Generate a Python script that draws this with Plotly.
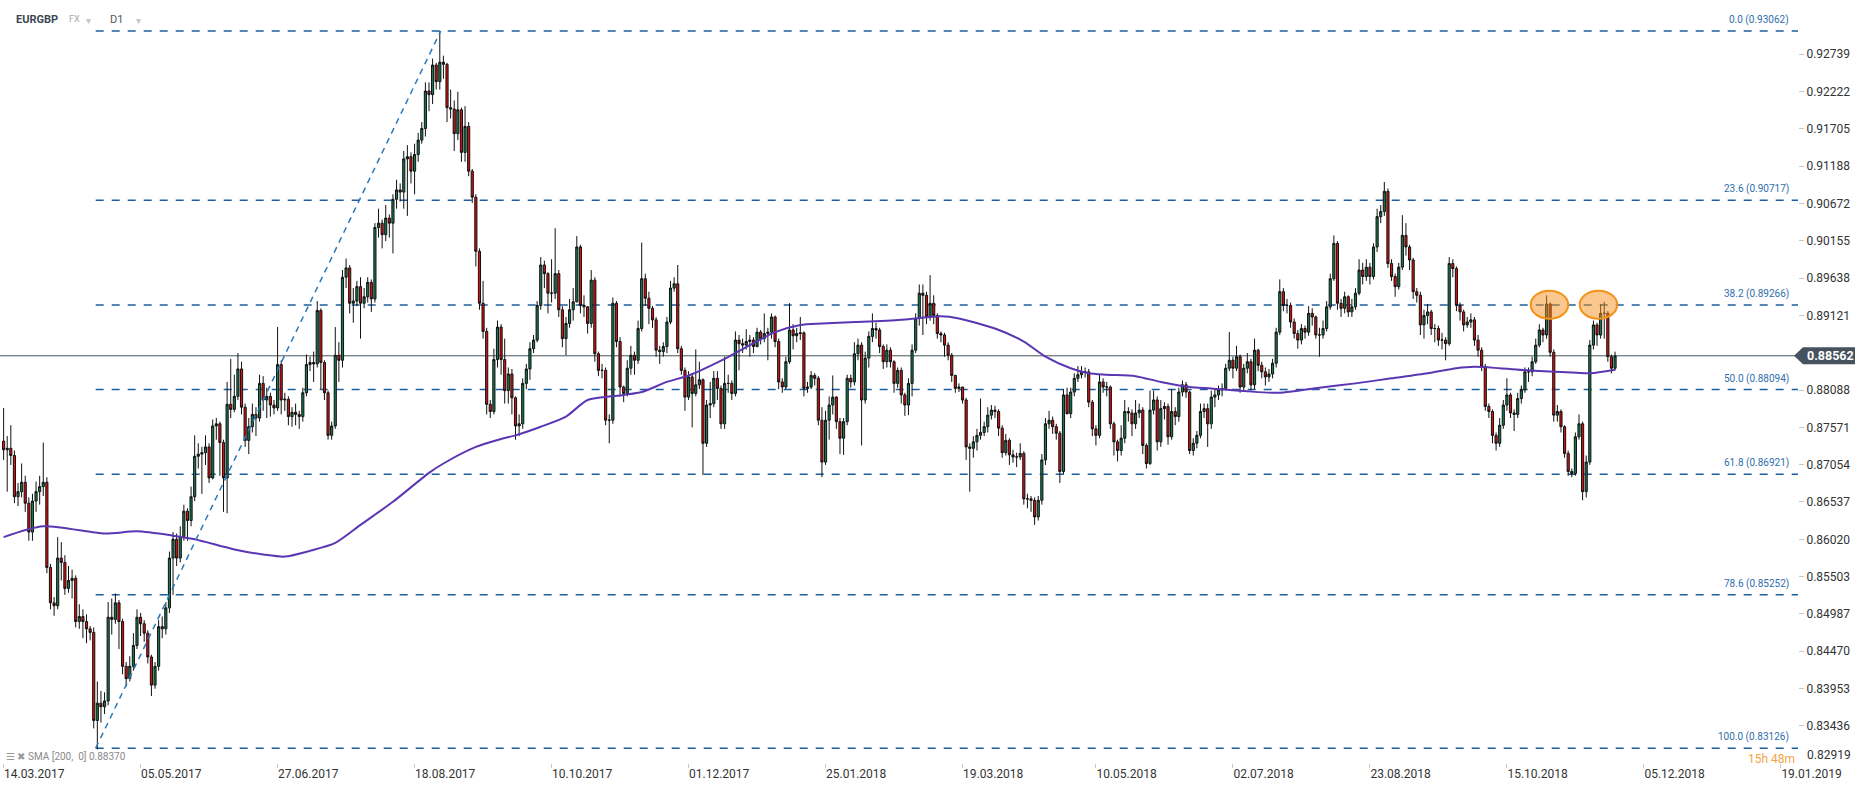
import plotly.graph_objects as go

# ---------------- data ----------------
instrument = "EURGBP"
market = "FX"
timeframe = "D1"

# daily candles, bar index 0 = 14.03.2017
close = [
    0.8726, 0.8728, 0.8718, 0.8661, 0.8668, 0.8681, 0.8652, 0.8612, 0.8655, 0.8668,  # 0
    0.8675, 0.8681, 0.8563, 0.8514, 0.8510, 0.8576, 0.8570, 0.8534, 0.8545, 0.8548,  # 10
    0.8488, 0.8495, 0.8488, 0.8478, 0.8473, 0.8351, 0.8375, 0.8370, 0.8378, 0.8494,  # 20
    0.8491, 0.8514, 0.8488, 0.8426, 0.8409, 0.8426, 0.8455, 0.8494, 0.8485, 0.8472,  # 30
    0.8439, 0.8400, 0.8426, 0.8481, 0.8478, 0.8507, 0.8576, 0.8602, 0.8576, 0.8606,  # 40
    0.8641, 0.8628, 0.8661, 0.8717, 0.8720, 0.8722, 0.8730, 0.8687, 0.8759, 0.8762,  # 50
    0.8736, 0.8687, 0.8789, 0.8782, 0.8800, 0.8838, 0.8785, 0.8739, 0.8758, 0.8775,  # 60
    0.8770, 0.8818, 0.8795, 0.8800, 0.8788, 0.8784, 0.8844, 0.8795, 0.8796, 0.8772,  # 70
    0.8778, 0.8775, 0.8772, 0.8805, 0.8844, 0.8847, 0.8845, 0.8919, 0.8847, 0.8805,  # 80
    0.8746, 0.8759, 0.8857, 0.8850, 0.8965, 0.8978, 0.8929, 0.8932, 0.8952, 0.8929,  # 90
    0.8938, 0.8958, 0.8935, 0.9034, 0.9040, 0.9024, 0.9047, 0.9040, 0.9073, 0.9086,  # 100
    0.9083, 0.9129, 0.9132, 0.9112, 0.9135, 0.9155, 0.9171, 0.9223, 0.9218, 0.9259,  # 110
    0.9236, 0.9263, 0.9260, 0.9200, 0.9198, 0.9164, 0.9197, 0.9138, 0.9174, 0.9112,  # 120
    0.9076, 0.9001, 0.8929, 0.8890, 0.8789, 0.8779, 0.8851, 0.8896, 0.8851, 0.8808,  # 130
    0.8831, 0.8798, 0.8759, 0.8762, 0.8818, 0.8838, 0.8866, 0.8878, 0.8926, 0.8982,  # 140
    0.8970, 0.8943, 0.8943, 0.8970, 0.8920, 0.8880, 0.8901, 0.8920, 0.8931, 0.9007,  # 150
    0.8926, 0.8924, 0.8901, 0.8961, 0.8859, 0.8836, 0.8836, 0.8767, 0.8767, 0.8929,  # 160
    0.8876, 0.8813, 0.8804, 0.8839, 0.8857, 0.8850, 0.8894, 0.8963, 0.8936, 0.8922,  # 170
    0.8906, 0.8864, 0.8862, 0.8869, 0.8903, 0.8950, 0.8956, 0.8866, 0.8836, 0.8799,  # 180
    0.8827, 0.8804, 0.8816, 0.8823, 0.8735, 0.8788, 0.8790, 0.8825, 0.8811, 0.8762,  # 190
    0.8818, 0.8818, 0.8804, 0.8878, 0.8873, 0.8871, 0.8876, 0.8878, 0.8869, 0.8889,  # 200
    0.8880, 0.8887, 0.8889, 0.8910, 0.8876, 0.8820, 0.8813, 0.8848, 0.8892, 0.8884,  # 210
    0.8887, 0.8888, 0.8811, 0.8813, 0.8829, 0.8825, 0.8767, 0.8709, 0.8767, 0.8788,  # 220
    0.8799, 0.8765, 0.8742, 0.8765, 0.8825, 0.8820, 0.8859, 0.8871, 0.8795, 0.8853,  # 230
    0.8883, 0.8894, 0.8892, 0.8869, 0.8848, 0.8864, 0.8848, 0.8818, 0.8836, 0.8802,  # 240
    0.8788, 0.8818, 0.8864, 0.8908, 0.8943, 0.8940, 0.8910, 0.8929, 0.8912, 0.8887,  # 250
    0.8885, 0.8871, 0.8857, 0.8829, 0.8811, 0.8813, 0.8795, 0.8730, 0.8728, 0.8737,  # 260
    0.8746, 0.8750, 0.8758, 0.8774, 0.8781, 0.8779, 0.8756, 0.8722, 0.8739, 0.8719,  # 270
    0.8716, 0.8716, 0.8721, 0.8658, 0.8658, 0.8656, 0.8633, 0.8656, 0.8712, 0.8762,  # 280
    0.8767, 0.8758, 0.8749, 0.8696, 0.8802, 0.8776, 0.8806, 0.8825, 0.8830, 0.8834,  # 290
    0.8834, 0.8792, 0.8755, 0.8746, 0.8820, 0.8813, 0.8813, 0.8762, 0.8737, 0.8725,  # 300
    0.8742, 0.8779, 0.8777, 0.8762, 0.8777, 0.8781, 0.8732, 0.8707, 0.8781, 0.8795,  # 310
    0.8737, 0.8783, 0.8786, 0.8744, 0.8779, 0.8772, 0.8806, 0.8816, 0.8806, 0.8725,  # 320
    0.8735, 0.8746, 0.8779, 0.8783, 0.8762, 0.8799, 0.8802, 0.8809, 0.8811, 0.8839,  # 330
    0.8850, 0.8839, 0.8855, 0.8813, 0.8839, 0.8848, 0.8816, 0.8864, 0.8843, 0.8834,  # 340
    0.8827, 0.8831, 0.8846, 0.8889, 0.8945, 0.8926, 0.8926, 0.8903, 0.8887, 0.8878,  # 350
    0.8894, 0.8889, 0.8915, 0.8910, 0.8885, 0.8885, 0.8894, 0.8924, 0.8963, 0.9012,  # 360
    0.8929, 0.8922, 0.8938, 0.8917, 0.8924, 0.8943, 0.8975, 0.8966, 0.8979, 0.8966,  # 370
    0.9007, 0.9049, 0.9056, 0.9084, 0.8984, 0.8966, 0.8952, 0.8979, 0.9023, 0.9007,  # 380
    0.8989, 0.8945, 0.8940, 0.8899, 0.8912, 0.8917, 0.8894, 0.8894, 0.8878, 0.8878,  # 390
    0.8873, 0.8984, 0.8977, 0.8926, 0.8917, 0.8899, 0.8903, 0.8906, 0.8878, 0.8864,  # 400
    0.8841, 0.8786, 0.8779, 0.8746, 0.8735, 0.8760, 0.8788, 0.8802, 0.8777, 0.8775,  # 410
    0.8797, 0.8809, 0.8834, 0.8834, 0.8848, 0.8871, 0.8892, 0.8885, 0.8928, 0.8861,  # 420
    0.8774, 0.8779, 0.8758, 0.8721, 0.8696, 0.8693, 0.8744, 0.8762, 0.8668, 0.8709,  # 430
    0.8871, 0.8899, 0.8885, 0.8915, 0.8915, 0.8855, 0.8839, 0.8856,                  # 440
]

high = [
    0.8784, 0.8745, 0.8760, 0.8725, 0.8680, 0.8707, 0.8690, 0.8660, 0.8665, 0.8682,  # 0
    0.8690, 0.8736, 0.8688, 0.8568, 0.8522, 0.8605, 0.8598, 0.8580, 0.8565, 0.8560,  # 10
    0.8552, 0.8512, 0.8505, 0.8498, 0.8482, 0.8480, 0.8405, 0.8392, 0.8390, 0.8515,  # 20
    0.8520, 0.8527, 0.8518, 0.8492, 0.8432, 0.8440, 0.8472, 0.8505, 0.8500, 0.8490,  # 30
    0.8476, 0.8442, 0.8432, 0.8490, 0.8495, 0.8515, 0.8585, 0.8612, 0.8610, 0.8620,  # 40
    0.8650, 0.8645, 0.8675, 0.8746, 0.8735, 0.8730, 0.8746, 0.8735, 0.8768, 0.8770,  # 50
    0.8765, 0.8740, 0.8820, 0.8852, 0.8830, 0.8860, 0.8848, 0.8790, 0.8770, 0.8790,  # 60
    0.8785, 0.8830, 0.8828, 0.8812, 0.8805, 0.8795, 0.8896, 0.8850, 0.8805, 0.8800,  # 70
    0.8785, 0.8790, 0.8780, 0.8812, 0.8858, 0.8855, 0.8862, 0.8932, 0.8922, 0.8850,  # 80
    0.8808, 0.8765, 0.8896, 0.8875, 0.8975, 0.8991, 0.8982, 0.8950, 0.8960, 0.8965,  # 90
    0.8950, 0.8965, 0.8962, 0.9040, 0.9060, 0.9045, 0.9065, 0.9052, 0.9080, 0.9100,  # 100
    0.9095, 0.9140, 0.9148, 0.9138, 0.9150, 0.9165, 0.9180, 0.9235, 0.9235, 0.9268,  # 110
    0.9262, 0.9306, 0.9272, 0.9262, 0.9225, 0.9210, 0.9222, 0.9200, 0.9202, 0.9180,  # 120
    0.9115, 0.9080, 0.9005, 0.8960, 0.8895, 0.8795, 0.8866, 0.8905, 0.8900, 0.8880,  # 130
    0.8840, 0.8838, 0.8800, 0.8775, 0.8825, 0.8845, 0.8875, 0.8885, 0.8932, 0.8993,  # 140
    0.8988, 0.8972, 0.8990, 0.9033, 0.8975, 0.8925, 0.8910, 0.8935, 0.8950, 0.9022,  # 150
    0.9010, 0.8940, 0.8925, 0.8975, 0.8965, 0.8862, 0.8845, 0.8840, 0.8775, 0.8937,  # 160
    0.8932, 0.8882, 0.8815, 0.8850, 0.8870, 0.8862, 0.8905, 0.9013, 0.8970, 0.8945,  # 170
    0.8925, 0.8910, 0.8870, 0.8875, 0.8910, 0.8960, 0.8965, 0.8982, 0.8870, 0.8840,  # 180
    0.8835, 0.8830, 0.8865, 0.8848, 0.8825, 0.8795, 0.8820, 0.8835, 0.8835, 0.8815,  # 190
    0.8855, 0.8830, 0.8822, 0.8890, 0.8885, 0.8880, 0.8893, 0.8885, 0.8882, 0.8895,  # 200
    0.8892, 0.8915, 0.8895, 0.8915, 0.8912, 0.8880, 0.8825, 0.8855, 0.8929, 0.8900,  # 210
    0.8895, 0.8910, 0.8890, 0.8820, 0.8835, 0.8832, 0.8828, 0.8785, 0.8780, 0.8800,  # 220
    0.8829, 0.8800, 0.8770, 0.8770, 0.8830, 0.8830, 0.8875, 0.8880, 0.8875, 0.8862,  # 230
    0.8890, 0.8915, 0.8902, 0.8895, 0.8872, 0.8872, 0.8868, 0.8850, 0.8840, 0.8840,  # 240
    0.8805, 0.8825, 0.8872, 0.8915, 0.8955, 0.8955, 0.8945, 0.8968, 0.8940, 0.8915,  # 250
    0.8890, 0.8888, 0.8875, 0.8860, 0.8830, 0.8818, 0.8813, 0.8798, 0.8735, 0.8745,  # 260
    0.8755, 0.8797, 0.8765, 0.8785, 0.8788, 0.8787, 0.8782, 0.8760, 0.8748, 0.8742,  # 270
    0.8726, 0.8722, 0.8735, 0.8724, 0.8665, 0.8662, 0.8660, 0.8662, 0.8720, 0.8770,  # 280
    0.8780, 0.8772, 0.8762, 0.8752, 0.8810, 0.8812, 0.8812, 0.8832, 0.8842, 0.8842,  # 290
    0.8840, 0.8838, 0.8795, 0.8760, 0.8830, 0.8825, 0.8820, 0.8815, 0.8765, 0.8740,  # 300
    0.8760, 0.8795, 0.8785, 0.8782, 0.8795, 0.8790, 0.8785, 0.8735, 0.8808, 0.8808,  # 310
    0.8800, 0.8795, 0.8792, 0.8790, 0.8810, 0.8785, 0.8812, 0.8822, 0.8820, 0.8808,  # 320
    0.8742, 0.8752, 0.8790, 0.8790, 0.8790, 0.8808, 0.8810, 0.8815, 0.8818, 0.8845,  # 330
    0.8889, 0.8855, 0.8870, 0.8858, 0.8845, 0.8860, 0.8852, 0.8880, 0.8866, 0.8848,  # 340
    0.8840, 0.8838, 0.8852, 0.8895, 0.8962, 0.8950, 0.8935, 0.8930, 0.8908, 0.8892,  # 350
    0.8900, 0.8898, 0.8925, 0.8922, 0.8912, 0.8895, 0.8905, 0.8932, 0.8970, 0.9023,  # 360
    0.9015, 0.8935, 0.8945, 0.8940, 0.8935, 0.8950, 0.8990, 0.8985, 0.8990, 0.8985,  # 370
    0.9012, 0.9060, 0.9065, 0.9097, 0.9088, 0.8990, 0.8970, 0.8985, 0.9051, 0.9040,  # 380
    0.9010, 0.8992, 0.8950, 0.8945, 0.8920, 0.8928, 0.8920, 0.8900, 0.8898, 0.8888,  # 390
    0.8882, 0.8993, 0.8990, 0.8980, 0.8930, 0.8920, 0.8910, 0.8915, 0.8910, 0.8885,  # 400
    0.8868, 0.8845, 0.8790, 0.8782, 0.8750, 0.8770, 0.8795, 0.8825, 0.8805, 0.8782,  # 410
    0.8805, 0.8815, 0.8840, 0.8840, 0.8855, 0.8880, 0.8900, 0.8895, 0.8940, 0.8930,  # 420
    0.8865, 0.8788, 0.8782, 0.8760, 0.8725, 0.8700, 0.8750, 0.8775, 0.8765, 0.8718,  # 430
    0.8878, 0.8905, 0.8902, 0.8928, 0.8931, 0.8918, 0.8858, 0.8862,                  # 440
]

low = [
    0.8712, 0.8668, 0.8705, 0.8652, 0.8648, 0.8660, 0.8640, 0.8600, 0.8600, 0.8640,  # 0
    0.8650, 0.8662, 0.8555, 0.8505, 0.8496, 0.8505, 0.8545, 0.8525, 0.8528, 0.8520,  # 10
    0.8480, 0.8478, 0.8465, 0.8458, 0.8462, 0.8340, 0.8311, 0.8348, 0.8360, 0.8372,  # 20
    0.8470, 0.8485, 0.8450, 0.8415, 0.8398, 0.8405, 0.8420, 0.8450, 0.8468, 0.8460,  # 30
    0.8430, 0.8385, 0.8395, 0.8420, 0.8465, 0.8470, 0.8500, 0.8525, 0.8565, 0.8570,  # 40
    0.8600, 0.8600, 0.8620, 0.8655, 0.8700, 0.8665, 0.8705, 0.8680, 0.8685, 0.8740,  # 50
    0.8690, 0.8640, 0.8638, 0.8770, 0.8778, 0.8795, 0.8775, 0.8730, 0.8720, 0.8750,  # 60
    0.8745, 0.8765, 0.8780, 0.8770, 0.8772, 0.8775, 0.8780, 0.8775, 0.8780, 0.8760,  # 70
    0.8758, 0.8760, 0.8755, 0.8765, 0.8800, 0.8835, 0.8820, 0.8840, 0.8810, 0.8795,  # 80
    0.8740, 0.8740, 0.8755, 0.8820, 0.8840, 0.8950, 0.8915, 0.8902, 0.8925, 0.8880,  # 90
    0.8922, 0.8930, 0.8917, 0.8930, 0.9020, 0.9005, 0.9015, 0.9020, 0.8998, 0.9060,  # 100
    0.9070, 0.9060, 0.9050, 0.9095, 0.9080, 0.9125, 0.9150, 0.9160, 0.9195, 0.9205,  # 110
    0.9225, 0.9225, 0.9240, 0.9180, 0.9185, 0.9140, 0.9155, 0.9125, 0.9125, 0.9105,  # 120
    0.9068, 0.8980, 0.8920, 0.8880, 0.8775, 0.8770, 0.8775, 0.8840, 0.8830, 0.8790,  # 130
    0.8790, 0.8775, 0.8740, 0.8745, 0.8755, 0.8810, 0.8823, 0.8860, 0.8875, 0.8920,  # 140
    0.8950, 0.8915, 0.8930, 0.8935, 0.8910, 0.8868, 0.8857, 0.8895, 0.8905, 0.8930,  # 150
    0.8915, 0.8910, 0.8887, 0.8895, 0.8848, 0.8828, 0.8825, 0.8760, 0.8735, 0.8762,  # 160
    0.8868, 0.8800, 0.8792, 0.8800, 0.8830, 0.8830, 0.8845, 0.8890, 0.8925, 0.8900,  # 170
    0.8895, 0.8855, 0.8845, 0.8855, 0.8860, 0.8900, 0.8945, 0.8860, 0.8830, 0.8780,  # 180
    0.8795, 0.8757, 0.8800, 0.8810, 0.8691, 0.8730, 0.8770, 0.8785, 0.8795, 0.8755,  # 190
    0.8755, 0.8805, 0.8795, 0.8800, 0.8836, 0.8860, 0.8865, 0.8855, 0.8860, 0.8868,  # 200
    0.8872, 0.8875, 0.8850, 0.8880, 0.8868, 0.8810, 0.8805, 0.8810, 0.8845, 0.8865,  # 210
    0.8875, 0.8878, 0.8800, 0.8805, 0.8810, 0.8815, 0.8760, 0.8688, 0.8705, 0.8740,  # 220
    0.8775, 0.8755, 0.8720, 0.8719, 0.8760, 0.8812, 0.8815, 0.8850, 0.8732, 0.8790,  # 230
    0.8840, 0.8875, 0.8880, 0.8860, 0.8838, 0.8840, 0.8840, 0.8805, 0.8812, 0.8790,  # 240
    0.8773, 0.8774, 0.8800, 0.8860, 0.8898, 0.8885, 0.8900, 0.8905, 0.8900, 0.8880,  # 250
    0.8875, 0.8855, 0.8850, 0.8820, 0.8805, 0.8806, 0.8790, 0.8712, 0.8668, 0.8715,  # 260
    0.8725, 0.8740, 0.8745, 0.8750, 0.8768, 0.8770, 0.8745, 0.8715, 0.8718, 0.8705,  # 270
    0.8708, 0.8702, 0.8712, 0.8650, 0.8645, 0.8640, 0.8622, 0.8628, 0.8650, 0.8705,  # 280
    0.8755, 0.8748, 0.8740, 0.8680, 0.8692, 0.8775, 0.8770, 0.8800, 0.8820, 0.8825,  # 290
    0.8826, 0.8785, 0.8745, 0.8732, 0.8742, 0.8805, 0.8800, 0.8755, 0.8718, 0.8710,  # 300
    0.8718, 0.8735, 0.8765, 0.8745, 0.8755, 0.8770, 0.8720, 0.8700, 0.8705, 0.8775,  # 310
    0.8725, 0.8730, 0.8768, 0.8733, 0.8740, 0.8760, 0.8765, 0.8800, 0.8798, 0.8720,  # 320
    0.8718, 0.8728, 0.8742, 0.8770, 0.8730, 0.8755, 0.8785, 0.8795, 0.8800, 0.8808,  # 330
    0.8835, 0.8825, 0.8835, 0.8805, 0.8808, 0.8832, 0.8808, 0.8810, 0.8835, 0.8825,  # 340
    0.8815, 0.8820, 0.8825, 0.8840, 0.8885, 0.8918, 0.8915, 0.8895, 0.8880, 0.8866,  # 350
    0.8872, 0.8880, 0.8884, 0.8898, 0.8880, 0.8855, 0.8880, 0.8890, 0.8920, 0.8960,  # 360
    0.8920, 0.8910, 0.8915, 0.8910, 0.8910, 0.8920, 0.8940, 0.8955, 0.8960, 0.8955,  # 370
    0.8962, 0.9000, 0.9040, 0.9050, 0.8978, 0.8960, 0.8938, 0.8948, 0.8975, 0.8995,  # 380
    0.8975, 0.8935, 0.8930, 0.8885, 0.8880, 0.8900, 0.8885, 0.8875, 0.8870, 0.8865,  # 390
    0.8850, 0.8870, 0.8965, 0.8918, 0.8905, 0.8890, 0.8895, 0.8895, 0.8870, 0.8855,  # 400
    0.8835, 0.8780, 0.8770, 0.8735, 0.8725, 0.8730, 0.8755, 0.8780, 0.8770, 0.8752,  # 410
    0.8770, 0.8790, 0.8805, 0.8820, 0.8828, 0.8845, 0.8868, 0.8875, 0.8880, 0.8855,  # 420
    0.8765, 0.8765, 0.8750, 0.8715, 0.8690, 0.8688, 0.8690, 0.8740, 0.8656, 0.8660,  # 430
    0.8705, 0.8865, 0.8870, 0.8880, 0.8880, 0.8848, 0.8832, 0.8836,                  # 440
]

first_open = 0.8738
# FX daily candles open where the previous one closed
opens = [first_open] + close[:-1]
bars = list(range(len(close)))

# SMA(200) line (bar index, value)
sma_bars = [0, 11, 28, 37, 47, 53, 64, 72, 78, 85, 92, 99, 108, 118, 122, 131, 138,
            142, 149, 156, 162, 172, 177, 184, 190, 200, 207, 214, 221, 227, 242, 251,
            260, 265, 275, 283, 289, 296, 301, 306, 314, 321, 329, 335, 345, 354, 365,
            375, 385, 395, 403, 408, 415, 423, 435, 440, 447]
sma_vals = [0.8605, 0.8620, 0.8610, 0.8613, 0.8607, 0.8602, 0.8588, 0.8581, 0.8578,
            0.8586, 0.8597, 0.8622, 0.8654, 0.8694, 0.8707, 0.8730, 0.8741, 0.8746,
            0.8758, 0.8772, 0.8795, 0.8802, 0.8806, 0.8820, 0.8829, 0.8852, 0.8871,
            0.8889, 0.8899, 0.8901, 0.8904, 0.8907, 0.8911, 0.8908, 0.8894, 0.8876,
            0.8855, 0.8839, 0.8832, 0.8830, 0.8828, 0.8820, 0.8813, 0.8811, 0.8807,
            0.8805, 0.8812, 0.8818, 0.8825, 0.8832, 0.8839, 0.8841, 0.8839, 0.8836,
            0.8833, 0.8832, 0.8837]
sma_label = "SMA [200,  0] 0.88370"

# Fibonacci retracement
fib_pct = ["0.0", "23.6", "38.2", "50.0", "61.8", "78.6", "100.0"]
fib_levels = [0.93062, 0.90717, 0.89266, 0.88094, 0.86921, 0.85252, 0.83126]
swing_bars = [25.55, 121.25]
swing_vals = [0.83126, 0.93062]

last_price = 0.88562

x_tick_bars = [0, 38, 76, 114, 152, 190, 228, 266, 303, 341, 379, 417, 455, 493]
x_tick_text = ["14.03.2017", "05.05.2017", "27.06.2017", "18.08.2017", "10.10.2017",
               "01.12.2017", "25.01.2018", "19.03.2018", "10.05.2018", "02.07.2018",
               "23.08.2018", "15.10.2018", "05.12.2018", "19.01.2019"]
y_tick_vals = [0.83436, 0.83953, 0.84470, 0.84987, 0.85503, 0.86020, 0.86537, 0.87054,
               0.87571, 0.88088, 0.89121, 0.89638, 0.90155, 0.90672, 0.91188, 0.91705,
               0.92222, 0.92739]
y_bottom_tick = 0.82919

# highlighted double top
highlight_bars = [428.8, 442.4]
highlight_level = 0.8927
highlight_half_w = 5.2
highlight_half_h = 0.00194

countdown = "15h 48m"

# ---------------- styling ----------------
GREEN = "#147a50"
RED = "#dd0d0d"
SMA_COLOR = "#5b36b3"
FIB_COLOR = "#1b5e9e"
FIB_TEXT = "#2f6eab"
TREND_COLOR = "#2878bd"
PRICE_COLOR = "#47545f"

X_RANGE = [-1.0, 497.75]
Y_RANGE = [0.82921, 0.93491]

fig = go.Figure()

fig.add_trace(go.Candlestick(
    x=bars, open=opens, high=high, low=low, close=close,
    increasing=dict(line=dict(color="#111111", width=1), fillcolor=GREEN),
    decreasing=dict(line=dict(color="#111111", width=1), fillcolor=RED),
    whiskerwidth=0, hoverinfo="skip", showlegend=False,
))

fig.add_trace(go.Scatter(
    x=sma_bars, y=sma_vals, mode="lines",
    line=dict(color=SMA_COLOR, width=2, shape="spline", smoothing=0.7),
    hoverinfo="skip", showlegend=False,
))

fig.add_trace(go.Scatter(
    x=swing_bars, y=swing_vals, mode="lines",
    line=dict(color=TREND_COLOR, width=1.5, dash="6px,5px"),
    hoverinfo="skip", showlegend=False,
))

shapes = []
annotations = []
for pct, lvl in zip(fib_pct, fib_levels):
    shapes.append(dict(type="line", xref="x", yref="y", x0=swing_bars[0], x1=X_RANGE[1],
                       y0=lvl, y1=lvl, layer="below",
                       line=dict(color=FIB_COLOR, width=1.5, dash="8px,8px")))
    annotations.append(dict(xref="paper", yref="y", x=0.9963, y=lvl, xanchor="right",
                            yanchor="bottom", yshift=3, showarrow=False,
                            text=f"{pct} ({lvl:.5f})",
                            font=dict(size=10, color=FIB_TEXT)))

# current price line + tag
shapes.append(dict(type="line", xref="paper", yref="y", x0=0, x1=1, y0=last_price,
                   y1=last_price, layer="below", line=dict(color=PRICE_COLOR, width=1)))
shapes.append(dict(type="path", xref="paper", yref="y", xsizemode="pixel", ysizemode="pixel",
                   xanchor=1, yanchor=last_price,
                   path="M -4,0 L 5,8.5 L 57,8.5 L 57,-8.5 L 5,-8.5 Z",
                   fillcolor="#46535e", line=dict(width=0), layer="above"))
annotations.append(dict(xref="paper", yref="y", x=1, y=last_price, xanchor="left",
                        xshift=7, showarrow=False, text=f"<b>{last_price:.5f}</b>",
                        font=dict(size=12.5, color="white")))

# highlighted tops
for hb in highlight_bars:
    shapes.append(dict(type="circle", xref="x", yref="y",
                       x0=hb - highlight_half_w, x1=hb + highlight_half_w,
                       y0=highlight_level - highlight_half_h, y1=highlight_level + highlight_half_h,
                       fillcolor="rgba(246,146,30,0.5)", line=dict(color="#f39218", width=2),
                       layer="above"))

# bottom price label (pushed up like the original)
annotations.append(dict(xref="paper", yref="paper", x=1, y=0.0, xanchor="left", yanchor="bottom",
                        xshift=7, yshift=-1, showarrow=False, text=f"{y_bottom_tick:.5f}",
                        font=dict(size=12, color="#333333")))

# header
annotations += [
    dict(xref="paper", yref="paper", x=14 / 1798, y=1 - 19 / 763, xanchor="left",
         yanchor="middle", showarrow=False, text=f"<b>{instrument}</b>",
         font=dict(size=11, color="#3b4752")),
    dict(xref="paper", yref="paper", x=67 / 1798, y=1 - 19 / 763, xanchor="left",
         yanchor="middle", showarrow=False, text=market, font=dict(size=9, color="#a8a8a8")),
    dict(xref="paper", yref="paper", x=84 / 1798, y=1 - 20 / 763, xanchor="left",
         yanchor="middle", showarrow=False, text="▾", font=dict(size=10, color="#c4c4c4")),
    dict(xref="paper", yref="paper", x=108 / 1798, y=1 - 19 / 763, xanchor="left",
         yanchor="middle", showarrow=False, text=timeframe, font=dict(size=11, color="#555555")),
    dict(xref="paper", yref="paper", x=134 / 1798, y=1 - 20 / 763, xanchor="left",
         yanchor="middle", showarrow=False, text="▾", font=dict(size=10, color="#c4c4c4")),
]

# SMA legend bottom-left
annotations.append(dict(xref="paper", yref="paper", x=4 / 1798, y=7 / 763, xanchor="left",
                        yanchor="middle", showarrow=False,
                        text=f"<span style='color:#9a9a9a'>☰ ✖</span> {sma_label}",
                        font=dict(size=10, color="#8a8a8a")))

# countdown (just under the 100.0 line so it does not cover that label)
annotations.append(dict(xref="paper", yref="y", x=1, y=fib_levels[-1], xanchor="right",
                        yanchor="top", xshift=-1, yshift=-2, showarrow=False, text=countdown,
                        font=dict(size=12, color="rgba(243,150,40,0.9)")))

fig.update_layout(
    width=1866, height=789,
    margin=dict(l=0, r=68, t=0, b=26),
    paper_bgcolor="white", plot_bgcolor="white",
    font=dict(family="Roboto, Arial, sans-serif", size=12, color="#333333"),
    showlegend=False, boxgap=0.15,
    shapes=shapes, annotations=annotations,
)
fig.update_xaxes(
    range=X_RANGE, rangeslider=dict(visible=False), showgrid=False, zeroline=False,
    showline=False, tickmode="array", tickvals=x_tick_bars, ticktext=x_tick_text,
    ticks="outside", ticklen=4, tickcolor="#c8c8c8", ticklabelposition="outside right",
    tickfont=dict(size=12, color="#333333"),
)
fig.update_yaxes(
    range=Y_RANGE, side="right", showgrid=False, zeroline=False, showline=False,
    tickmode="array", tickvals=y_tick_vals, ticktext=[f"{v:.5f}" for v in y_tick_vals],
    ticks="outside", ticklen=5, tickcolor="#c8c8c8", tickfont=dict(size=12, color="#333333"),
)

fig.write_html("out.html", config={"displayModeBar": False},
               post_script="document.body.style.margin='0';")
